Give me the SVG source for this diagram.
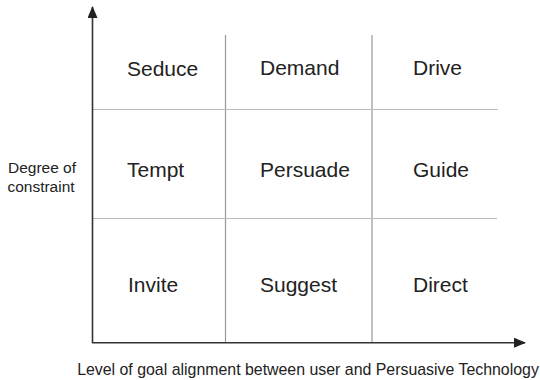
<svg xmlns="http://www.w3.org/2000/svg" width="540" height="380" viewBox="0 0 540 380">
<style>
.cell{font-family:"Liberation Sans",Arial,sans-serif;font-size:21px;fill:#222}
.lab{font-family:"Liberation Sans",Arial,sans-serif;font-size:15.5px;fill:#222}
.axis{stroke:#333;stroke-width:1.6;fill:none}
.vg{stroke:#999;stroke-width:1.2}
.hg{stroke:#bbb;stroke-width:1.2}
</style>
<defs>
<marker id="ah" markerWidth="12" markerHeight="10" refX="11" refY="5" orient="auto" markerUnits="userSpaceOnUse" viewBox="0 0 12 10">
<path d="M0,0 L12,5 L0,10 z" fill="#222"/>
</marker>
</defs>
<rect width="540" height="380" fill="#fff"/>
<g id="connectors">
<line class="vg" x1="225.5" y1="35" x2="225.5" y2="343"/>
<line class="vg" x1="372" y1="35" x2="372" y2="343"/>
<line class="hg" x1="92" y1="109.5" x2="498" y2="109.5"/>
<line class="hg" x1="92" y1="218.5" x2="497" y2="218.5"/>
<line class="axis" x1="92.5" y1="343" x2="92.5" y2="7" marker-end="url(#ah)"/>
<line class="axis" x1="92" y1="342.7" x2="525" y2="342.7" marker-end="url(#ah)"/>
</g>
<g id="seduce"><text class="cell" x="127" y="76">Seduce</text></g>
<g id="demand"><text class="cell" x="260" y="75">Demand</text></g>
<g id="drive"><text class="cell" x="413" y="75">Drive</text></g>
<g id="tempt"><text class="cell" x="127" y="177">Tempt</text></g>
<g id="persuade"><text class="cell" x="260" y="177">Persuade</text></g>
<g id="guide"><text class="cell" x="413" y="177">Guide</text></g>
<g id="invite"><text class="cell" x="128" y="292">Invite</text></g>
<g id="suggest"><text class="cell" x="260" y="292">Suggest</text></g>
<g id="direct"><text class="cell" x="413" y="292">Direct</text></g>
<g id="ylabel"><text class="lab" x="42" y="173" text-anchor="middle">Degree of</text><text class="lab" x="41" y="192" text-anchor="middle">constraint</text></g>
<g id="xlabel"><text class="lab" x="308" y="375" text-anchor="middle" style="font-size:15.9px">Level of goal alignment between user and Persuasive Technology</text></g>
</svg>
